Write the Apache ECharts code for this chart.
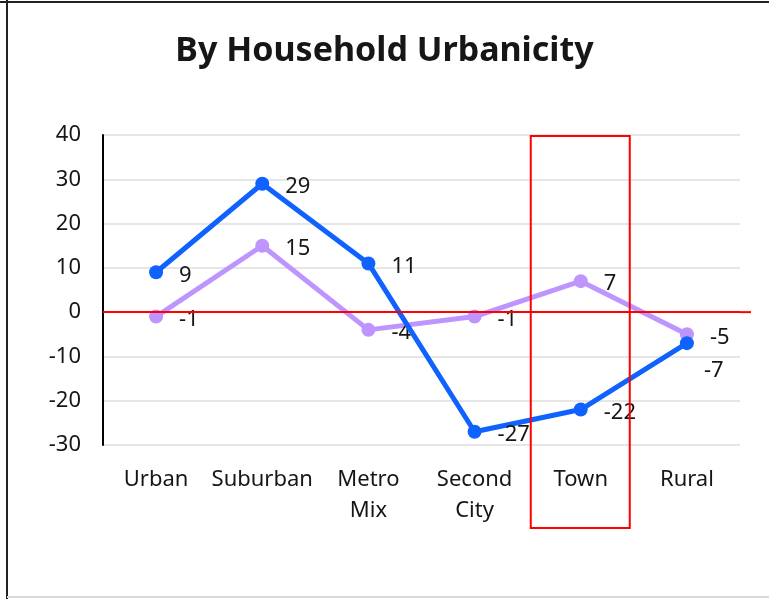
<!DOCTYPE html>
<html>
<head>
<meta charset="utf-8">
<style>
  html, body { margin: 0; padding: 0; background: #ffffff; }
  #chart { width: 769px; height: 599px; }
</style>
<script src="https://cdn.jsdelivr.net/npm/echarts@6/dist/echarts.min.js"></script>
</head>
<body>
<div id="chart"></div>
<script>
// Household urbanicity segments
const categories = ['Urban', 'Suburban', 'Metro Mix', 'Second City', 'Town', 'Rural'];
// Two measures per segment
const blueValues = [9, 29, 11, -27, -22, -7];
const purpleValues = [-1, 15, -4, -1, 7, -5];
// Value axis ticks
const yTicks = [-30, -20, -10, 0, 10, 20, 30, 40];
const highlighted = 'Town';

const FONT = '"Noto Sans", "Open Sans", sans-serif';
const TEXT = '#161616';

const chart = echarts.init(document.getElementById('chart'), null, { renderer: 'canvas' });

function labelled(values, overrides) {
  return values.map((v, i) => overrides[i] ? { value: v, label: overrides[i] } : v);
}

const option = {
  backgroundColor: '#ffffff',
  animation: false,
  title: {
    text: 'By Household Urbanicity',
    left: 'center',
    top: 29,
    textStyle: { fontFamily: FONT, fontWeight: 'bold', fontSize: 34, color: TEXT }
  },
  grid: { left: 103, right: 29, top: 135, bottom: 154, containLabel: false },
  xAxis: {
    type: 'category',
    data: categories,
    boundaryGap: true,
    axisLine: { show: false },
    axisTick: { show: false },
    axisLabel: {
      fontFamily: FONT, fontSize: 22, color: TEXT, margin: 19, lineHeight: 31,
      interval: 0,
      formatter: v => v.replace(' ', '\n')
    }
  },
  yAxis: {
    type: 'value',
    min: yTicks[0],
    max: yTicks[yTicks.length - 1],
    interval: 10,
    axisLine: { show: true, lineStyle: { color: '#000', width: 2 } },
    axisTick: { show: false },
    axisLabel: { fontFamily: FONT, fontSize: 22, color: TEXT, margin: 22 },
    splitLine: { show: true, lineStyle: { color: '#e6e6e6', width: 2 } }
  },
  series: [
    {
      name: 'Purple',
      type: 'line',
      data: purpleValues,
      symbol: 'circle',
      symbolSize: 14,
      itemStyle: { color: '#be95ff' },
      lineStyle: { color: '#be95ff', width: 5 },
      label: {
        show: true, position: 'right', distance: 16, offset: [0, 3],
        fontFamily: FONT, fontSize: 22, color: TEXT
      },
      z: 2,
      markLine: {
        silent: true,
        symbol: 'none',
        label: { show: false },
        lineStyle: { color: '#ff0000', width: 2, type: 'solid' },
        data: [{ yAxis: 0 }]
      }
    },
    {
      name: 'Blue',
      type: 'line',
      data: labelled(blueValues, { 5: { offset: [-6, 28] } }),
      symbol: 'circle',
      symbolSize: 14,
      itemStyle: { color: '#0f62fe' },
      lineStyle: { color: '#0f62fe', width: 5 },
      label: {
        show: true, position: 'right', distance: 16, offset: [0, 3],
        fontFamily: FONT, fontSize: 22, color: TEXT
      },
      z: 3
    }
  ]
};

chart.setOption(option);

// Frame lines and the box marking the highlighted segment
function drawOverlay() {
  const idx = categories.indexOf(highlighted);
  const center = chart.convertToPixel({ xAxisIndex: 0 }, idx);
  const top = chart.convertToPixel({ yAxisIndex: 0 }, yTicks[yTicks.length - 1]);
  const bottom = chart.convertToPixel({ yAxisIndex: 0 }, yTicks[0]);
  const zeroY = chart.convertToPixel({ yAxisIndex: 0 }, 0);
  chart.setOption({
    graphic: [
      { type: 'line', shape: { x1: 7, y1: 0, x2: 7, y2: 599 }, style: { stroke: '#222', lineWidth: 2 }, z: 100 },
      { type: 'line', shape: { x1: 0, y1: 2, x2: 769, y2: 2 }, style: { stroke: '#222', lineWidth: 2 }, z: 100 },
      { type: 'line', shape: { x1: 7, y1: 597, x2: 769, y2: 597 }, style: { stroke: '#d9d9d9', lineWidth: 2 }, z: 100 },
      { type: 'line', shape: { x1: 740, y1: zeroY, x2: 751, y2: zeroY }, style: { stroke: '#ff0000', lineWidth: 2 }, z: 100 },
      {
        type: 'rect',
        shape: { x: center - 50, y: top + 1, width: 99, height: bottom - top + 82 },
        style: { fill: 'none', stroke: '#ff0000', lineWidth: 2 },
        z: 100
      }
    ]
  });
}
drawOverlay();
</script>
</body>
</html>
